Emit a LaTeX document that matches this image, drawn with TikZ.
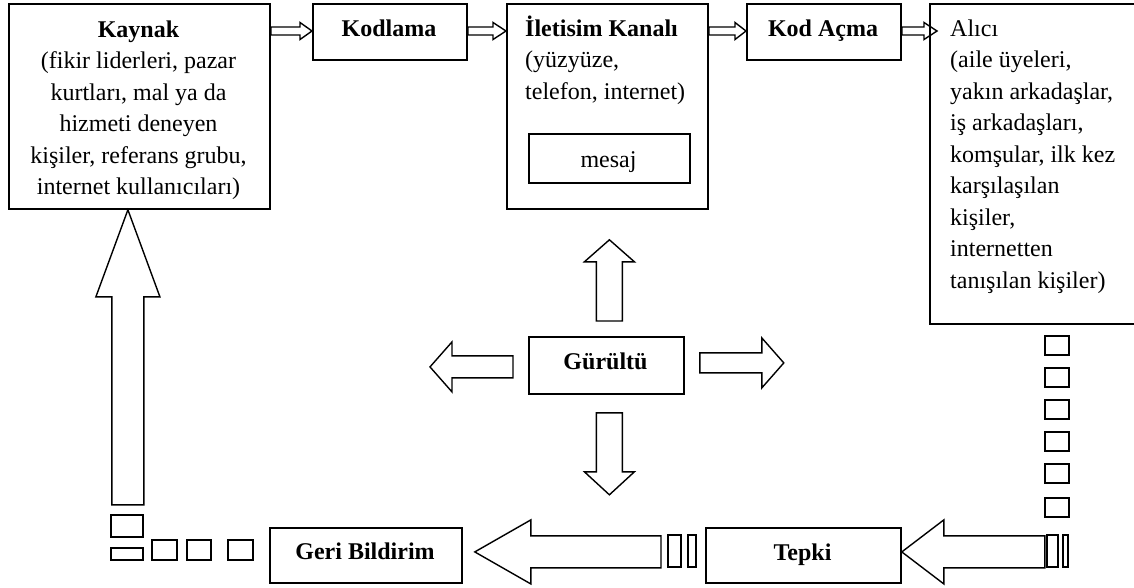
\documentclass[tikz,border=0pt]{standalone}
\usepackage{fontspec}
\setmainfont{Liberation Serif}
\usetikzlibrary{calc}

\tikzset{
  box/.style={draw, line width=1.8pt, rectangle, inner sep=0pt, anchor=north west},
  blk/.style={draw, line width=1.4pt, line join=miter},
  piece/.style={draw, line width=1.3pt},
  lbl/.style={inner sep=0pt, font=\fontsize{24}{31.5}\selectfont},
}

% hollow block arrow: #1 tail, #2 tip, #3 shaft half width, #4 head half width, #5 head length
\newcommand{\blockarrow}[5]{%
  \coordinate (ba-c) at ($(#2)!#5!(#1)$);
  \draw[blk] ($(#1)!#3!90:(#2)$) -- ($(ba-c)!#3!90:(#2)$) -- ($(ba-c)!#4!90:(#2)$)
    -- (#2) -- ($(ba-c)!#4!-90:(#2)$) -- ($(ba-c)!#3!-90:(#2)$)
    -- ($(#1)!#3!-90:(#2)$) -- cycle;
}

\begin{document}
\begin{tikzpicture}[x=1pt,y=-1pt]
\useasboundingbox (0,0) rectangle (1134,587);
\fill[white] (0,0) rectangle (1134,587);

% boxes
\node[box, minimum width=261pt, minimum height=205pt] (kaynak) at (8,3) {};
\node[box, minimum width=154pt, minimum height=56pt] (kodlama) at (312,3) {};
\node[box, minimum width=201pt, minimum height=205pt] (ilet) at (506,3) {};
\node[box, minimum width=161pt, minimum height=49pt] (mesaj) at (528,133) {};
\node[box, minimum width=154pt, minimum height=56pt] (kodacma) at (746,3) {};
\begin{scope}
  \clip (0,0) rectangle (1134,587);
  \node[box, minimum width=230pt, minimum height=320pt] (alici) at (929,3) {};
\end{scope}
\node[box, minimum width=155pt, minimum height=57pt] (noise) at (528,336) {};
\node[box, minimum width=192pt, minimum height=55pt] (geri) at (269,527) {};
\node[box, minimum width=195pt, minimum height=55pt] (tepki) at (705,527) {};

% texts (multi-line texts are anchored at the baseline of their last line)
\node[lbl, anchor=base, align=center] (kaynak-t) at (138.5,194.5)
  {\textbf{Kaynak}\\(fikir liderleri, pazar\\kurtları, mal ya da\\hizmeti deneyen\\kişiler, referans grubu,\\internet kullanıcıları)};
\node[lbl, anchor=base] (kodlama-t) at (389,36) {\textbf{Kodlama}};
\node[lbl, anchor=base west, align=left] (ilet-t) at (525,99)
  {\textbf{İletisim Kanalı}\\(yüzyüze,\\telefon, internet)};
\node[lbl, anchor=base] (mesaj-t) at (608.5,167) {mesaj};
\node[lbl, anchor=base] (kodacma-t) at (823,36) {\textbf{Kod Açma}};
\node[lbl, anchor=base west, align=left] (alici-t) at (950,288)
  {Alıcı\\(aile üyeleri,\\yakın arkadaşlar,\\iş arkadaşları,\\komşular, ilk kez\\karşılaşılan\\kişiler,\\internetten\\tanışılan kişiler)};
\node[lbl, anchor=base] (noise-t) at (605.5,369) {\textbf{Gürültü}};
\node[lbl, anchor=base] (geri-t) at (365,559) {\textbf{Geri Bildirim}};
\node[lbl, anchor=base] (tepki-t) at (802.5,560) {\textbf{Tepki}};

% top row arrows
\coordinate (a1t) at ($(kaynak.north east)+(0,28)$);
\coordinate (a1h) at ($(kodlama.north west)+(0,28)$);
\blockarrow{a1t}{a1h}{4pt}{8.5pt}{12pt}
\coordinate (a2t) at ($(kodlama.north east)+(0,28)$);
\coordinate (a2h) at ($(ilet.north west)+(0,28)$);
\blockarrow{a2t}{a2h}{4pt}{8.5pt}{13pt}
\coordinate (a3t) at ($(ilet.north east)+(0,28)$);
\coordinate (a3h) at ($(kodacma.north west)+(0,28)$);
\blockarrow{a3t}{a3h}{4pt}{8.5pt}{11pt}
\coordinate (a4t) at ($(kodacma.north east)+(0,28)$);
\coordinate (a4h) at ($(alici.north west)+(8,28)$);
\blockarrow{a4t}{a4h}{4pt}{8.5pt}{13pt}

% arrows around the noise box
\coordinate (nu-t) at ($(noise.north)+(3,-15)$);
\coordinate (nu-h) at ($(ilet.south)+(2,30)$);
\blockarrow{nu-t}{nu-h}{13pt}{25pt}{22pt}
\coordinate (nd-t) at ($(noise.south)+(3,18)$);
\coordinate (nd-h) at ($(noise.south)+(3,100)$);
\blockarrow{nd-t}{nd-h}{13pt}{25pt}{23pt}
\coordinate (nl-t) at ($(noise.west)+(-15,1.5)$);
\coordinate (nl-h) at ($(noise.west)+(-98,1.5)$);
\blockarrow{nl-t}{nl-h}{11pt}{25pt}{22pt}
\coordinate (nr-t) at ($(noise.east)+(15,-2.5)$);
\coordinate (nr-h) at ($(noise.east)+(99,-2.5)$);
\blockarrow{nr-t}{nr-h}{10pt}{25pt}{22pt}

% feedback loop
\coordinate (fb1-h) at ($(tepki.east)+(0,-3.5)$);
\coordinate (fb1-t) at ($(tepki.east)+(143,-3.5)$);
\blockarrow{fb1-t}{fb1-h}{16pt}{32pt}{42pt}
\coordinate (fb2-h) at ($(geri.east)+(12,-3.5)$);
\coordinate (fb2-t) at ($(tepki.west)+(-44,-3.5)$);
\blockarrow{fb2-t}{fb2-h}{16pt}{32pt}{56pt}
\coordinate (fb3-h) at ($(kaynak.south)+(-11.5,0)$);
\coordinate (fb3-t) at ($(kaynak.south)+(-11.5,295)$);
\blockarrow{fb3-t}{fb3-h}{16pt}{32pt}{87pt}

% broken segments of the loop
\foreach \y in {336,368,400,432,464,498}
  \draw[piece] (1045,\y) rectangle (1069,\y+19);
\draw[piece] (1047,535) rectangle (1058,567);
\draw[piece] (1063,535) rectangle (1068,567);
\draw[piece] (668,535) rectangle (681,567);
\draw[piece] (688,535) rectangle (696,567);
\draw[piece] (152,540) rectangle (177,560);
\draw[piece] (187,540) rectangle (211,560);
\draw[piece] (228,540) rectangle (253,560);
\draw[piece] (111,548) rectangle (143,560);
\draw[piece] (111,515) rectangle (143,537);
\end{tikzpicture}
\end{document}
